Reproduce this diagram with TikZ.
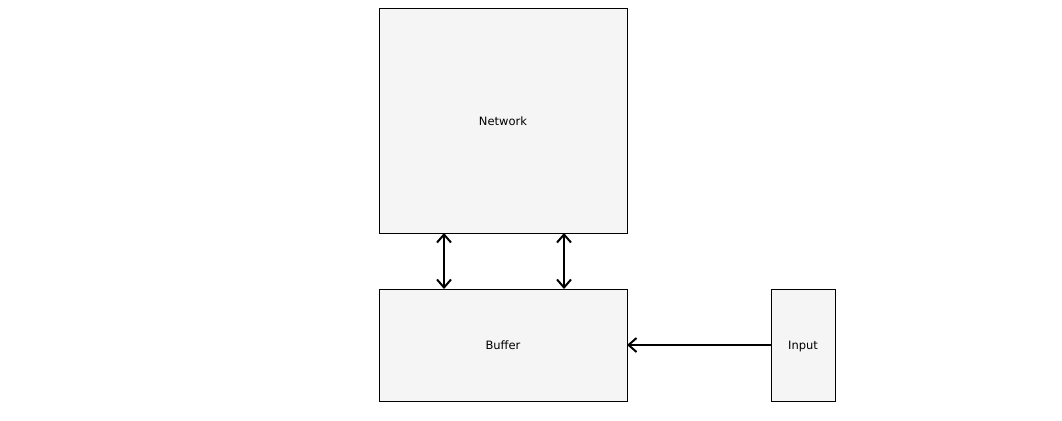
\documentclass[tikz,border=0pt]{standalone}
\usepackage{fontspec}
\setmainfont{DejaVu Sans}
\usetikzlibrary{positioning,arrows.meta,calc}
\definecolor{boxFill}{HTML}{F5F5F5}
\tikzset{
    block/.style={
        draw,
        fill=boxFill,
        line width=1pt,
        inner sep=0pt,
        outer sep=0pt,
        text height=8pt,
        text depth=0pt,
        font=\fontsize{11.5}{13}\selectfont
    },
    tip/.style={Straight Barb[length=8pt,width=14pt,line width=2pt]},
    link/.style={
        line width=2.2pt,
        {Straight Barb[length=8pt,width=14pt,line width=2pt]}-{Straight Barb[length=8pt,width=14pt,line width=2pt]}
    },
    feed/.style={
        line width=2pt,
        -{Straight Barb[length=8pt,width=14pt,line width=2pt]}
    }
}
\begin{document}
\begin{tikzpicture}[x=1pt,y=-1pt]
    \useasboundingbox (0,0) rectangle (1062,420);
    % blocks
    \node[block, minimum width=248pt, minimum height=224pt] (net) at (503,121) {Network};
    \node[block, minimum width=248pt, minimum height=112pt, below=56pt of net] (buf) {Buffer};
    \node[block, minimum width=64pt, minimum height=112pt, right=144pt of buf] (inp) {Input};

    % connectors
    \draw[link] ([xshift=-59pt]net.south) -- ([xshift=-59pt]buf.north);
    \draw[link] ([xshift=61pt]net.south) -- ([xshift=61pt]buf.north);
    \draw[feed] (inp.west) -- (buf.east);
\end{tikzpicture}
\end{document}
